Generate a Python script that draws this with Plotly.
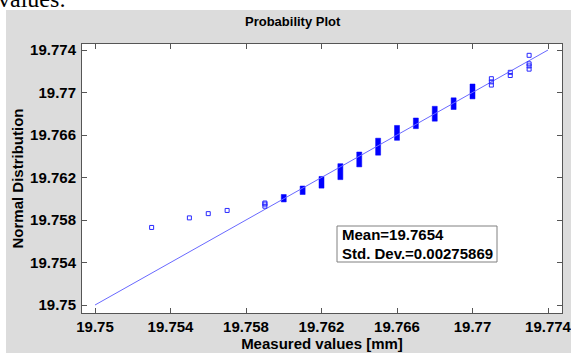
import plotly.graph_objects as go

# ---- data ----
# isolated (sparse) measured values and their normal-quantile positions
pt_x = [19.753, 19.755, 19.756, 19.757, 19.759, 19.759, 19.759,
        19.771, 19.771, 19.771, 19.772, 19.772, 19.773, 19.773, 19.773, 19.773]
pt_y = [19.7573, 19.7582, 19.7586, 19.7589, 19.7593, 19.7595, 19.7596,
        19.7707, 19.7710, 19.7713, 19.7716, 19.7719, 19.7722, 19.7725, 19.7727, 19.7735]

# dense groups (stacked squares forming vertical bars): value, lowest and highest point
bar_x = [19.760, 19.761, 19.762, 19.763, 19.764, 19.765, 19.766, 19.767, 19.768, 19.769, 19.770]
bar_lo = [19.7597, 19.7604, 19.7610, 19.7618, 19.7630, 19.7641, 19.7655, 19.7666, 19.7673, 19.7684, 19.7694]
bar_hi = [19.7604, 19.7612, 19.7621, 19.7633, 19.7644, 19.7657, 19.7669, 19.7676, 19.7687, 19.7695, 19.7708]

# reference line
line_x = [19.75, 19.774]
line_y = [19.75, 19.774]

tick_vals = [19.75, 19.754, 19.758, 19.762, 19.766, 19.77, 19.774]
tick_text = ["19.75", "19.754", "19.758", "19.762", "19.766", "19.77", "19.774"]

mean_val = "19.7654"
std_val = "0.00275869"

# ---- build figure ----
W, H = 571, 353
ML, MR, MT, MB = 82, 9, 44, 40
PW, PH = W - ML - MR, H - MT - MB
X_RANGE = [19.749311, 19.774742]
Y_RANGE = [19.749247, 19.774565]

def px_x(p):  # pixel -> paper x
    return (p - ML) / PW

def px_y(p):  # pixel -> paper y
    return (H - MB - p) / PH

fig = go.Figure()

fig.add_trace(go.Scatter(x=line_x, y=line_y, mode="lines",
                         line=dict(color="rgb(105,105,255)", width=1),
                         hoverinfo="skip", showlegend=False))

# solid bars for dense groups (extent of stacked squares), drawn as filled bars
bar_w = 5 * (X_RANGE[1] - X_RANGE[0]) / PW
fig.add_trace(go.Bar(x=bar_x, base=bar_lo,
                     y=[h - l for l, h in zip(bar_lo, bar_hi)],
                     width=bar_w, marker=dict(color="#0000ff",
                                              line=dict(width=0.5, color="#0000ff")),
                     opacity=1, showlegend=False))

fig.add_trace(go.Scatter(x=pt_x, y=pt_y, mode="markers",
                         marker=dict(symbol="square-open", size=4,
                                     color="rgb(40,40,255)",
                                     line=dict(width=1, color="rgb(40,40,255)")),
                         showlegend=False))

axis_common = dict(
    tickvals=tick_vals, ticktext=tick_text,
    ticks="inside", ticklen=5, tickcolor="#555", tickwidth=1,
    showline=True, linecolor="#555", linewidth=1, mirror="ticks",
    showgrid=False, zeroline=False, automargin=False,
    ticklabeloverflow="allow",
    tickfont=dict(family="Liberation Sans, Arial", size=15, color="black", weight="bold"),
)

fig.update_layout(
    width=W, height=H,
    margin=dict(l=ML, r=MR, t=MT, b=MB, pad=0, autoexpand=False),
    paper_bgcolor="#dcdcdc", plot_bgcolor="white",
    font=dict(family="Liberation Sans, Arial", color="black"),
    xaxis=dict(range=X_RANGE, ticklabelstandoff=0,
               title=dict(text="<b>Measured values [mm]</b>", font=dict(size=15), standoff=1),
               **axis_common),
    yaxis=dict(range=Y_RANGE, ticklabelstandoff=2,
               title=dict(text="<b>Normal Distribution</b>", font=dict(size=15), standoff=2),
               **axis_common),
    showlegend=False,
    barmode="overlay",
)

# white page strips (top and left)
fig.add_shape(type="rect", xref="paper", yref="paper",
              x0=px_x(-5), x1=px_x(W + 5), y0=px_y(10), y1=px_y(-5),
              fillcolor="white", line=dict(width=0), layer="below")
fig.add_shape(type="rect", xref="paper", yref="paper",
              x0=px_x(-5), x1=px_x(6), y0=px_y(H + 5), y1=px_y(-5),
              fillcolor="white", line=dict(width=0), layer="below")

# cropped document text at the top
fig.add_annotation(text="values:", xref="paper", yref="paper",
                   x=px_x(-4), y=px_y(14), xanchor="left", yanchor="bottom",
                   showarrow=False,
                   font=dict(family="Liberation Serif", size=24, color="black"))

# title
fig.add_annotation(text="<b>Probability Plot</b>", xref="paper", yref="paper",
                   x=px_x(293), y=px_y(22), xanchor="center", yanchor="middle",
                   showarrow=False, font=dict(size=13))

# stats box
fig.add_shape(type="rect", xref="paper", yref="paper",
              x0=px_x(337), x1=px_x(497), y0=px_y(262), y1=px_y(226),
              fillcolor="white", line=dict(color="#808080", width=1), layer="above")
fig.add_annotation(text=f"<b>Mean={mean_val}</b>", xref="paper", yref="paper",
                   x=px_x(340), y=px_y(234), xanchor="left", yanchor="middle",
                   showarrow=False, font=dict(size=15))
fig.add_annotation(text=f"<b>Std. Dev.={std_val}</b>", xref="paper", yref="paper",
                   x=px_x(340), y=px_y(253), xanchor="left", yanchor="middle",
                   showarrow=False, font=dict(size=15))

fig.write_html("out.html")
